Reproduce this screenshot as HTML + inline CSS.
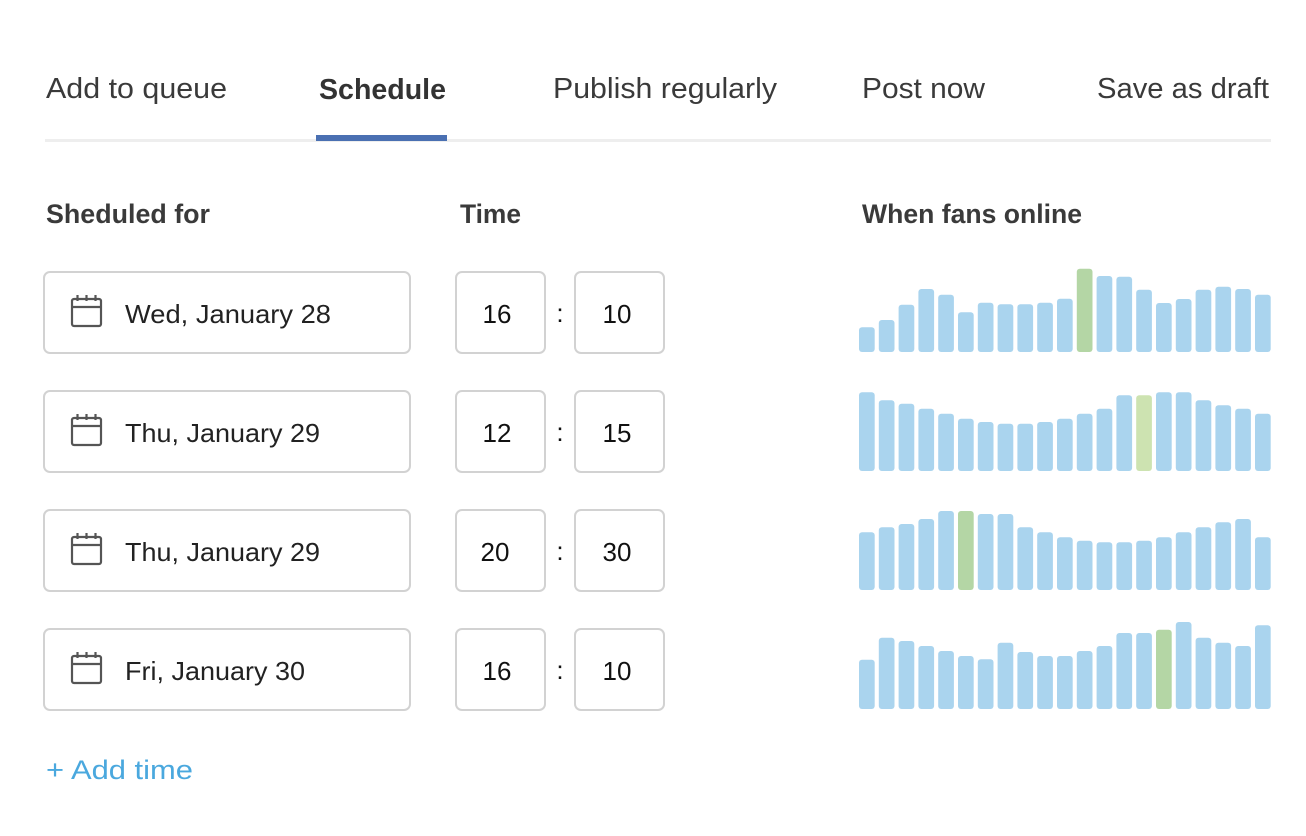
<!DOCTYPE html>
<html><head><meta charset="utf-8"><style>
html,body{margin:0;padding:0;background:#fff;}
svg{display:block;}
text{font-family:"Liberation Sans","DejaVu Sans",sans-serif;}
</style></head><body>
<svg width="1306" height="836" viewBox="0 0 1306 836" xmlns="http://www.w3.org/2000/svg">
<rect width="1306" height="836" fill="#fff"/>
<!-- tabs -->
<g fill="#3a3a3a" font-size="29">
<text x="46" y="98" textLength="181" lengthAdjust="spacingAndGlyphs">Add to queue</text>
<text x="319" y="99" textLength="127" lengthAdjust="spacingAndGlyphs" font-weight="bold" fill="#333">Schedule</text>
<text x="553" y="98" textLength="224" lengthAdjust="spacingAndGlyphs">Publish regularly</text>
<text x="862" y="98" textLength="123" lengthAdjust="spacingAndGlyphs">Post now</text>
<text x="1097" y="98" textLength="172" lengthAdjust="spacingAndGlyphs">Save as draft</text>
</g>
<rect x="45" y="139" width="1226" height="3" fill="#eeeeee"/>
<rect x="316" y="135" width="131" height="6" fill="#4a70b2"/>
<!-- headings -->
<g fill="#3a3a3a" font-size="27" font-weight="bold">
<text x="46" y="223" textLength="164" lengthAdjust="spacingAndGlyphs">Sheduled for</text>
<text x="460" y="223" textLength="61" lengthAdjust="spacingAndGlyphs">Time</text>
<text x="862" y="223" textLength="220" lengthAdjust="spacingAndGlyphs">When fans online</text>
</g>
<!-- rows -->
<defs>
<g id="cal" fill="none" stroke="#555" stroke-width="2.2">
<rect x="72" y="299" width="29" height="27" rx="2"/>
<line x1="72" y1="307" x2="101" y2="307"/>
<line x1="77.5" y1="295" x2="77.5" y2="301"/>
<line x1="86.5" y1="295" x2="86.5" y2="301"/>
<line x1="95.5" y1="295" x2="95.5" y2="301"/>
</g>
<g id="boxes" fill="#fff" stroke="#d2d2d2" stroke-width="2">
<rect x="44" y="272" width="366" height="81" rx="6"/>
<rect x="456" y="272" width="89" height="81" rx="6"/>
<rect x="575" y="272" width="89" height="81" rx="6"/>
</g>
</defs>
<use href="#boxes"/><use href="#cal"/>
<use href="#boxes" y="119"/><use href="#cal" y="119"/>
<use href="#boxes" y="238"/><use href="#cal" y="238"/>
<use href="#boxes" y="357"/><use href="#cal" y="357"/>
<g fill="#222" font-size="26">
<text x="125" y="323" textLength="206" lengthAdjust="spacingAndGlyphs">Wed, January 28</text>
<text x="125" y="442" textLength="195" lengthAdjust="spacingAndGlyphs">Thu, January 29</text>
<text x="125" y="561" textLength="195" lengthAdjust="spacingAndGlyphs">Thu, January 29</text>
<text x="125" y="680" textLength="180" lengthAdjust="spacingAndGlyphs">Fri, January 30</text>
</g>
<g fill="#111" font-size="26" text-anchor="middle">
<text x="497" y="323">16</text><text x="560" y="322">:</text><text x="617" y="323">10</text>
<text x="497" y="442">12</text><text x="560" y="441">:</text><text x="617" y="442">15</text>
<text x="495" y="561">20</text><text x="560" y="560">:</text><text x="617" y="561">30</text>
<text x="497" y="680">16</text><text x="560" y="679">:</text><text x="617" y="680">10</text>
</g>
<text x="46" y="779" font-size="27" fill="#4aa8de" textLength="147" lengthAdjust="spacingAndGlyphs">+ Add time</text>
<g id="bars"></g>
<script>
(function(){
var rows=[
 {b:352,t:[327.3,320,304.7,289,294.7,312.3,302.7,304.3,304.3,302.7,298.7,268.7,276,276.7,289.7,303,299,289.7,286.7,289,294.7],g:11,gc:"#b4d6a5"},
 {b:471,t:[392.3,400.3,403.7,408.7,413.7,418.7,422,423.7,423.7,422,418.7,413.7,408.7,395.3,395.3,392.3,392.3,400.3,405.3,408.7,413.7],g:14,gc:"#cde3b1"},
 {b:590,t:[532.3,527.3,524,519,511,511,514,514,527.3,532.3,537.3,540.7,542.3,542.3,540.7,537.3,532.3,527.3,522.3,519,537.3],g:5,gc:"#b4d6a5"},
 {b:709,t:[659.7,637.7,641,646,651,656,659.3,642.7,652,656,656,651,646,633,633,629.7,622,637.7,642.7,646,625.3],g:15,gc:"#b4d6a5"}
];
var ns="http://www.w3.org/2000/svg",g=document.getElementById("bars");
rows.forEach(function(r){r.t.forEach(function(t,i){
 var e=document.createElementNS(ns,"rect");
 e.setAttribute("x",859+i*19.8);e.setAttribute("y",t);
 e.setAttribute("width",15.7);e.setAttribute("height",r.b-t);
 e.setAttribute("rx",3);e.setAttribute("fill",i==r.g?r.gc:"#aad4ee");
 g.appendChild(e);});});
})();
</script>
</svg>
</body></html>
